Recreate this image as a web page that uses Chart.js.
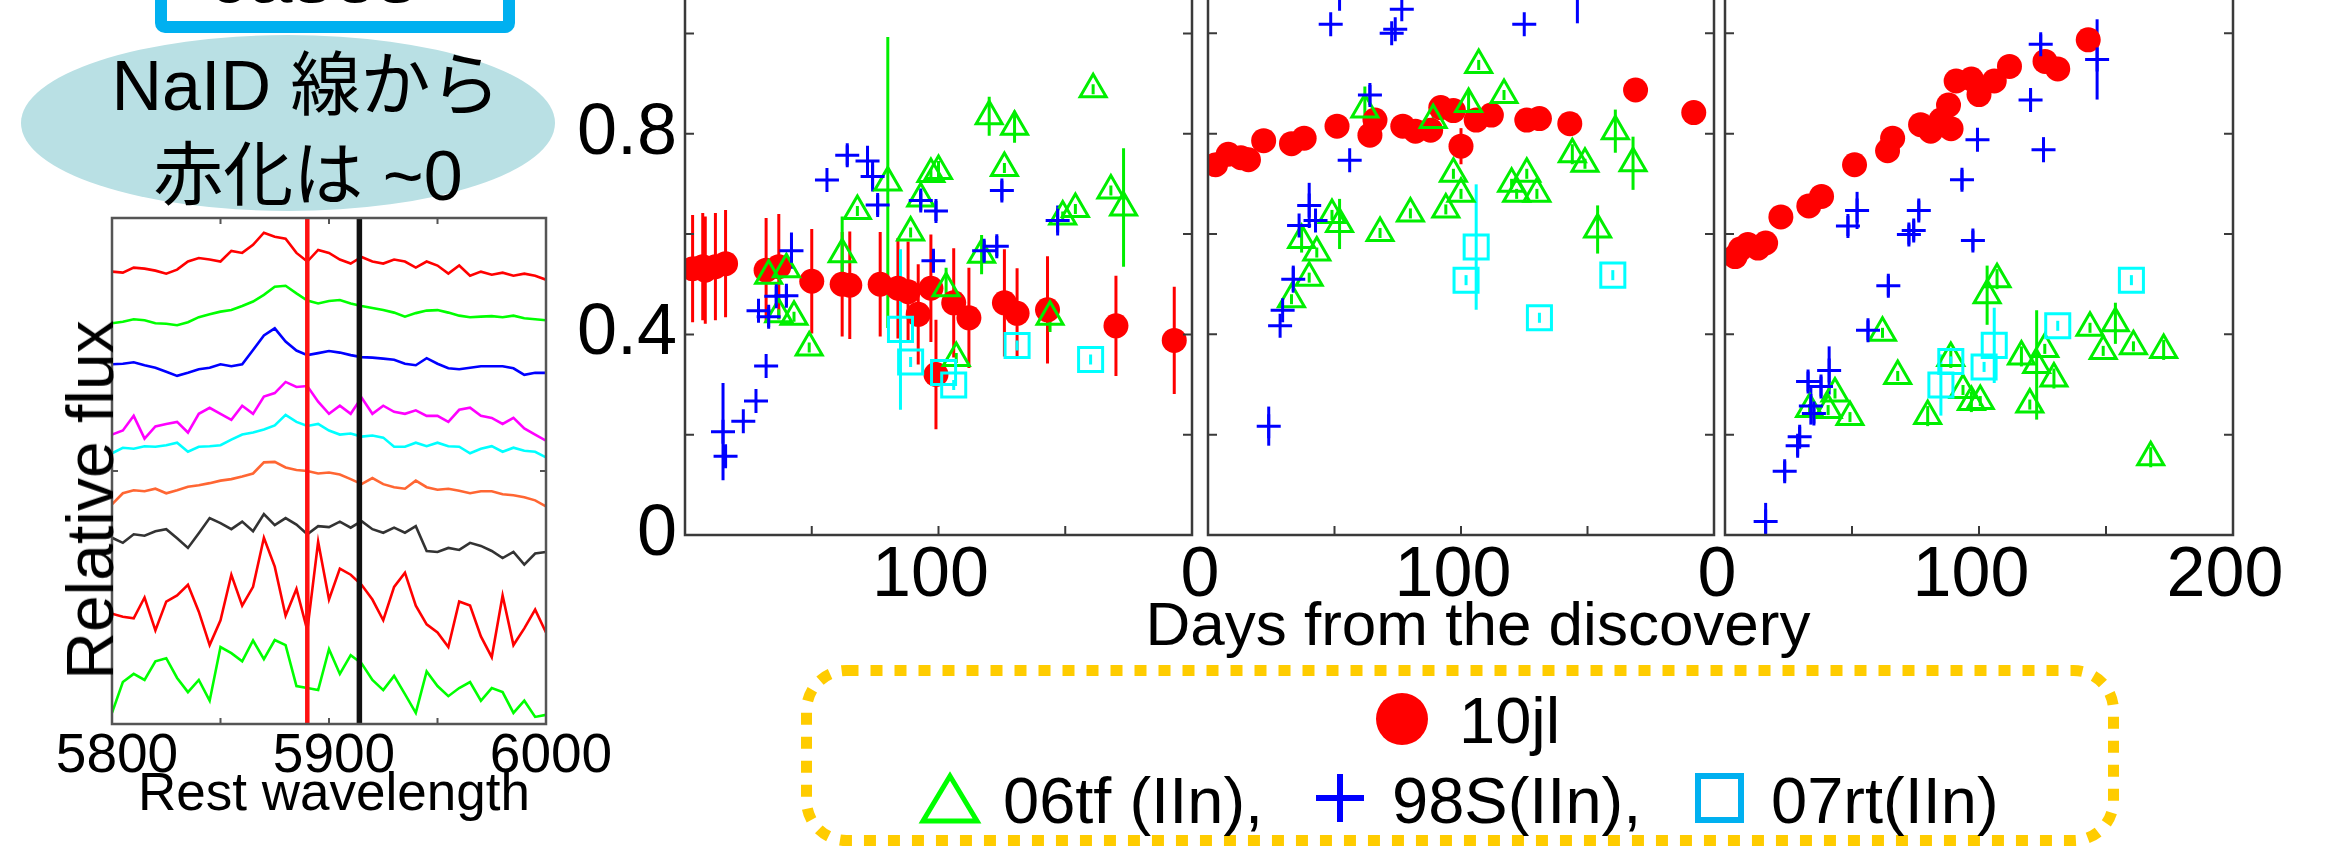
<!DOCTYPE html>
<html>
<head>
<meta charset="utf-8">
<script src="https://cdn.jsdelivr.net/npm/chart.js@4.4.1/dist/chart.umd.min.js"></script>
<style>
  body { margin: 0; width: 2333px; height: 846px; position: relative; overflow: hidden; background: #fff;
         font-family: "Liberation Sans", Arial, "Noto Sans CJK JP", sans-serif; }
  canvas { position: absolute; }
  .txt { position: absolute; white-space: nowrap; line-height: 1; color: #000; }
  #topbox { position: absolute; left: 155px; top: -200px; width: 360px; height: 233px; box-sizing: border-box;
            border: 12px solid #00b0f0; border-radius: 10px; }
  #ellipse { position: absolute; left: 21px; top: 35px; width: 534px; height: 176px; border-radius: 50%; background: #b9e0e4; }
  #legend { position: absolute; left: 0; top: 0; }
</style>
</head>
<body>
<div id="topbox"></div>
<div id="ellipse"></div>
<svg id="legend" width="2333" height="846">
  <rect x="806.5" y="670.5" width="1307" height="170" rx="40" fill="none" stroke="#ffcc00" stroke-width="11" stroke-dasharray="12 12"/>
  <circle cx="1402" cy="719" r="26" fill="#ff0000"/>
  <polygon points="950,776 923,821 977,821" fill="none" stroke="#00ff00" stroke-width="5"/>
  <line x1="1316" y1="798" x2="1364" y2="798" stroke="#0000ff" stroke-width="6"/>
  <line x1="1340" y1="774" x2="1340" y2="822" stroke="#0000ff" stroke-width="6"/>
  <rect x="1698" y="776" width="43" height="44" fill="none" stroke="#00b0f0" stroke-width="6"/>
</svg>
<script>
// ---- light-curve panels: days from discovery vs. flux ratio ----
// panel 1
const p1RedDays = [3, 7, 8, 12, 16, 32, 37, 50, 62, 65, 77, 84, 88, 92, 97, 99, 106, 112, 126, 131, 143, 170, 193];
const p1RedFlux = [0.531, 0.535, 0.528, 0.535, 0.541, 0.528, 0.535, 0.506, 0.500, 0.498, 0.500, 0.492, 0.485, 0.440, 0.492, 0.320, 0.463, 0.433, 0.463, 0.442, 0.449, 0.417, 0.388];
const p1RedErr  = [0.107, 0.107, 0.107, 0.107, 0.107, 0.104, 0.105, 0.104, 0.104, 0.107, 0.104, 0.100, 0.100, 0.100, 0.107, 0.109, 0.109, 0.100, 0.107, 0.090, 0.107, 0.100, 0.107];

const p1BlueDays = [15, 16, 23, 28, 32, 29, 33, 36, 40, 42, 56, 64, 72, 74, 76, 93, 99, 98, 118, 123, 125, 147];
const p1BlueFlux = [0.206, 0.157, 0.227, 0.267, 0.337, 0.447, 0.435, 0.476, 0.477, 0.567, 0.708, 0.757, 0.746, 0.715, 0.658, 0.667, 0.646, 0.547, 0.567, 0.576, 0.687, 0.627];
const p1BlueErr  = [0.097, 0.021, 0, 0, 0, 0.02, 0.02, 0.02, 0.02, 0.036, 0, 0.02, 0.03, 0.03, 0.02, 0.02, 0.02, 0.02, 0.02, 0.02, 0.02, 0.03];

const p1GreenDays = [33, 40, 37, 43, 49, 62, 68, 80, 89, 93, 97, 100, 103, 107, 117, 120, 130, 126, 144, 149, 154, 161, 168, 173];
const p1GreenFlux = [0.517, 0.530, 0.440, 0.435, 0.374, 0.560, 0.646, 0.703, 0.603, 0.671, 0.720, 0.726, 0.492, 0.353, 0.559, 0.835, 0.814, 0.732, 0.435, 0.635, 0.650, 0.889, 0.687, 0.653];
const p1GreenErr  = [0.01, 0.01, 0.01, 0.01, 0.01, 0.075, 0.01, 0.29, 0.01, 0.01, 0.01, 0.02, 0.041, 0.01, 0.039, 0.039, 0.032, 0.01, 0.03, 0.01, 0.01, 0.01, 0.01, 0.118];

const p1CyanDays = [85, 89, 102, 106, 131, 160];
const p1CyanFlux = [0.410, 0.345, 0.324, 0.299, 0.378, 0.350];
const p1CyanErr  = [0.16, 0.01, 0.01, 0.01, 0.01, 0.01];

// panel 2
const p2RedDays = [3, 8, 13, 16, 22, 33, 38, 51, 64, 66, 77, 82, 88, 92, 97, 100, 106, 112, 126, 131, 143, 169, 192];
const p2RedFlux = [0.738, 0.759, 0.752, 0.748, 0.786, 0.780, 0.791, 0.815, 0.797, 0.827, 0.815, 0.805, 0.807, 0.852, 0.846, 0.775, 0.827, 0.837, 0.827, 0.830, 0.820, 0.887, 0.842];
const p2RedErr  = [0, 0, 0, 0, 0, 0, 0, 0, 0, 0, 0, 0, 0, 0, 0, 0.036, 0, 0, 0, 0, 0, 0, 0];

const p2BlueDays = [24, 28.5, 29.5, 33.7, 36, 40, 42.5, 56, 64, 48.5, 72.6, 74, 76.6, 125, 52, 146];
const p2BlueFlux = [0.217, 0.417, 0.448, 0.510, 0.617, 0.657, 0.627, 0.747, 0.877, 1.018, 1.000, 1.008, 1.048, 1.018, 1.12, 1.13];
const p2BlueErr  = [0.039, 0, 0, 0.027, 0, 0.045, 0, 0, 0.02, 0, 0, 0, 0, 0, 0.075, 0.11];

const p2GreenDays = [62, 89, 103, 107, 117, 49, 52, 37, 43, 40, 33, 68, 80, 94, 97, 100, 120, 122, 126, 130, 144, 149, 161, 168, 154];
const p2GreenFlux = [0.848, 0.827, 0.859, 0.937, 0.877, 0.638, 0.620, 0.588, 0.563, 0.513, 0.470, 0.602, 0.641, 0.649, 0.720, 0.680, 0.700, 0.680, 0.720, 0.680, 0.759, 0.740, 0.805, 0.741, 0.609];
const p2GreenErr  = [0.046, 0.027, 0.027, 0.01, 0.01, 0.01, 0.05, 0.025, 0.01, 0.01, 0.01, 0.01, 0.01, 0.01, 0.01, 0.01, 0.01, 0.01, 0.01, 0.01, 0.02, 0.01, 0.043, 0.053, 0.048];

const p2CyanDays = [106, 102, 131, 160];
const p2CyanFlux = [0.574, 0.508, 0.433, 0.518];
const p2CyanErr  = [0.125, 0.01, 0.01, 0.01];

// panel 3
const p3RedDays = [4, 6, 9, 13, 16, 22, 33, 38, 51, 64, 66, 77, 81, 85, 89, 88, 91, 97, 100, 106, 112, 126, 131, 143];
const p3RedFlux = [0.555, 0.570, 0.579, 0.572, 0.582, 0.634, 0.656, 0.675, 0.738, 0.766, 0.791, 0.818, 0.805, 0.827, 0.810, 0.857, 0.905, 0.909, 0.878, 0.905, 0.934, 0.944, 0.929, 0.987];
const p3RedErr  = [0, 0, 0, 0, 0, 0, 0, 0, 0, 0, 0, 0, 0, 0, 0, 0, 0, 0, 0, 0, 0, 0, 0, 0];

const p3BlueDays = [16, 23.5, 28.6, 29.4, 32.7, 33.8, 35, 37.8, 41, 56.3, 64.3, 48.4, 52, 72.4, 74.3, 76.3, 97.6, 93.3, 99.4, 120.3, 124.3, 125.4, 146.5];
const p3BlueFlux = [0.027, 0.127, 0.178, 0.196, 0.306, 0.257, 0.242, 0.296, 0.328, 0.408, 0.497, 0.616, 0.647, 0.599, 0.607, 0.647, 0.587, 0.708, 0.788, 0.867, 0.978, 0.768, 0.948];
const p3BlueErr  = [0.037, 0.02, 0.02, 0.02, 0.02, 0.037, 0.02, 0.02, 0.048, 0.02, 0.02, 0.02, 0.037, 0.02, 0.02, 0.02, 0.02, 0.02, 0.02, 0.02, 0.02, 0.025, 0.08];

const p3GreenDays = [33.3, 40.6, 43.3, 49.2, 62, 68, 79.8, 88.9, 93.7, 97, 100.5, 103.2, 107.1, 116.7, 120, 122.7, 125.9, 129.5, 143.7, 148.9, 153.7, 160.8, 172.7, 167.6];
const p3GreenFlux = [0.251, 0.249, 0.282, 0.235, 0.403, 0.317, 0.237, 0.353, 0.289, 0.265, 0.267, 0.478, 0.510, 0.356, 0.260, 0.339, 0.371, 0.312, 0.413, 0.367, 0.422, 0.376, 0.369, 0.155];
const p3GreenErr  = [0.01, 0.01, 0.01, 0.01, 0.01, 0.01, 0.02, 0.02, 0.01, 0.02, 0.01, 0.059, 0.02, 0.02, 0.01, 0.109, 0.01, 0.02, 0.01, 0.01, 0.041, 0.01, 0.02, 0.02];

const p3CyanDays = [85, 88.9, 102, 106, 131, 160];
const p3CyanFlux = [0.299, 0.346, 0.335, 0.378, 0.417, 0.508];
const p3CyanErr  = [0.061, 0.01, 0.01, 0.075, 0.01, 0.01];

// axis ticks and labels
const dayTicks = [50, 100, 150];
const fluxTicks = [0.2, 0.4, 0.6, 0.8, 1.0];
const fluxLabels = [0, 0.4, 0.8];
const p1DayLabels = [100];
const p2DayLabels = [0, 100];
const p3DayLabels = [0, 100, 200];

// ---- spectra around NaI D ----
const wavelengths = [5800, 5805, 5810, 5815, 5820, 5825, 5830, 5835, 5840, 5845, 5850, 5855, 5860, 5865, 5870, 5875, 5880, 5885, 5890, 5895,
                     5900, 5905, 5910, 5915, 5920, 5925, 5930, 5935, 5940, 5945, 5950, 5955, 5960, 5965, 5970, 5975, 5980, 5985, 5990, 5995, 6000];
const specRed1    = [8.94, 8.92, 9.02, 9.00, 8.96, 8.90, 8.98, 9.14, 9.21, 9.18, 9.14, 9.35, 9.31, 9.47, 9.71, 9.63, 9.59, 9.31, 9.14, 9.37, 9.31, 9.18, 9.10, 9.23, 9.14, 9.10, 9.18, 9.14, 9.02, 9.14, 9.06, 8.90, 9.06, 8.86, 8.94, 8.88, 8.92, 8.86, 8.90, 8.86, 8.78];
const specGreen1  = [7.92, 7.95, 8.00, 7.98, 7.92, 7.91, 7.88, 7.94, 8.04, 8.10, 8.15, 8.18, 8.26, 8.35, 8.48, 8.64, 8.66, 8.51, 8.37, 8.31, 8.36, 8.38, 8.31, 8.26, 8.22, 8.18, 8.13, 8.05, 8.12, 8.17, 8.18, 8.13, 8.07, 8.04, 8.05, 8.06, 8.04, 8.07, 8.02, 8.00, 7.98];
const specBlue    = [7.11, 7.12, 7.15, 7.09, 7.04, 6.96, 6.88, 6.94, 7.01, 7.04, 7.11, 7.07, 7.11, 7.39, 7.68, 7.82, 7.56, 7.38, 7.29, 7.33, 7.37, 7.34, 7.29, 7.25, 7.24, 7.22, 7.20, 7.12, 7.09, 7.23, 7.12, 7.03, 7.01, 7.04, 7.07, 7.07, 7.07, 7.03, 6.90, 6.94, 6.94];
const specMagenta = [5.72, 5.80, 6.09, 5.64, 5.88, 5.93, 5.97, 5.76, 6.13, 6.25, 6.13, 6.01, 6.29, 6.13, 6.47, 6.54, 6.76, 6.66, 6.68, 6.37, 6.13, 6.29, 6.13, 6.45, 6.13, 6.29, 6.17, 6.13, 6.20, 6.09, 6.09, 5.97, 6.21, 6.25, 6.09, 6.05, 5.93, 6.05, 5.84, 5.72, 5.60];
const specCyan    = [5.35, 5.46, 5.44, 5.49, 5.48, 5.51, 5.56, 5.38, 5.48, 5.49, 5.51, 5.62, 5.72, 5.76, 5.82, 5.90, 6.11, 5.97, 5.89, 5.93, 5.80, 5.72, 5.74, 5.68, 5.70, 5.66, 5.48, 5.48, 5.56, 5.49, 5.56, 5.49, 5.48, 5.35, 5.44, 5.49, 5.38, 5.46, 5.40, 5.38, 5.27];
const specOrange  = [4.34, 4.56, 4.62, 4.60, 4.65, 4.56, 4.62, 4.69, 4.72, 4.76, 4.81, 4.84, 4.89, 4.95, 5.17, 5.18, 5.07, 5.02, 5.00, 4.95, 4.97, 4.93, 4.84, 4.74, 4.86, 4.74, 4.68, 4.65, 4.81, 4.68, 4.63, 4.65, 4.61, 4.56, 4.60, 4.60, 4.54, 4.52, 4.48, 4.42, 4.30];
const specGray    = [3.68, 3.58, 3.75, 3.72, 3.81, 3.85, 3.67, 3.48, 3.77, 4.07, 3.97, 3.85, 4.00, 3.81, 4.15, 3.93, 4.07, 3.94, 3.75, 3.91, 3.89, 4.00, 3.88, 4.01, 3.85, 3.78, 3.88, 3.78, 3.91, 3.42, 3.40, 3.48, 3.44, 3.58, 3.52, 3.42, 3.28, 3.40, 3.15, 3.37, 3.40];
const specRed2    = [2.18, 2.12, 2.09, 2.50, 1.85, 2.42, 2.54, 2.75, 2.22, 1.56, 2.05, 2.95, 2.34, 2.71, 3.68, 3.11, 2.14, 2.67, 1.85, 3.60, 2.46, 3.07, 2.95, 2.75, 2.46, 2.05, 2.71, 2.99, 2.34, 1.97, 1.81, 1.52, 2.42, 2.34, 1.73, 1.32, 2.54, 1.56, 1.89, 2.26, 1.81];
const specGreen2  = [0.22, 0.83, 0.99, 0.87, 1.24, 1.30, 0.91, 0.63, 0.87, 0.46, 1.52, 1.40, 1.24, 1.65, 1.28, 1.66, 1.56, 0.75, 0.71, 0.67, 1.48, 0.99, 1.36, 1.20, 0.87, 0.67, 0.95, 0.59, 0.22, 1.04, 0.75, 0.55, 0.71, 0.83, 0.46, 0.71, 0.63, 0.22, 0.46, 0.14, 0.18];
const naLines = [5890, 5914];
const waveTicks = [5850, 5900, 5950];
const waveLabels = [5800, 5900, 6000];
const specFluxTicks = [5];

Chart.defaults.font.family = '"Liberation Sans", Arial, sans-serif';
Chart.defaults.color = '#000';
Chart.defaults.animation = false;

// error bars: vertical lines drawn through the chart's own scales
const errorBars = {
  id: 'errorBars',
  beforeDatasetsDraw(chart) {
    const { ctx, chartArea: a, scales: { x, y } } = chart;
    ctx.save();
    ctx.beginPath();
    ctx.rect(a.left, a.top, a.right - a.left, a.bottom - a.top);
    ctx.clip();
    chart.data.datasets.forEach(ds => {
      if (!ds.errors) return;
      ctx.strokeStyle = ds.pointBorderColor;
      ctx.lineWidth = 3;
      ds.data.forEach((p, i) => {
        const e = ds.errors[i];
        if (!e) return;
        const px = x.getPixelForValue(p.x);
        ctx.beginPath();
        ctx.moveTo(px, y.getPixelForValue(p.y - e));
        ctx.lineTo(px, y.getPixelForValue(p.y + e));
        ctx.stroke();
      });
    });
    ctx.restore();
  }
};

// box frame with small inward ticks
const frame = {
  id: 'frame',
  afterDatasetsDraw(chart, args, opts) {
    const { ctx, chartArea: a, scales: { x, y } } = chart;
    ctx.save();
    ctx.strokeStyle = opts.color;
    ctx.lineWidth = 2;
    (opts.xTicks || []).forEach(v => {
      const px = x.getPixelForValue(v);
      ctx.beginPath();
      ctx.moveTo(px, a.bottom); ctx.lineTo(px, a.bottom - opts.len);
      ctx.moveTo(px, a.top); ctx.lineTo(px, a.top + opts.len);
      ctx.stroke();
    });
    (opts.yTicks || []).forEach(v => {
      const py = y.getPixelForValue(v);
      ctx.beginPath();
      ctx.moveTo(a.left, py); ctx.lineTo(a.left + opts.len, py);
      ctx.moveTo(a.right, py); ctx.lineTo(a.right - opts.len, py);
      ctx.stroke();
    });
    ctx.lineWidth = 2.5;
    ctx.strokeRect(a.left, a.top, a.right - a.left, a.bottom - a.top);
    ctx.restore();
  }
};

const hasValue = (list, v) => list.some(t => Math.abs(t - v) < 1e-6);

const STYLES = {
  sn10jl: { label: '10jl', pointStyle: 'circle', pointRadius: 12.5, pointBorderWidth: 0, pointBorderColor: '#ff0000', pointBackgroundColor: '#ff0000', order: 4 },
  sn06tf: { label: '06tf (IIn)', pointStyle: 'triangle', pointRadius: 15, pointBorderWidth: 3, pointBorderColor: '#00ee00', pointBackgroundColor: 'rgba(0,0,0,0)', order: 3 },
  sn98S:  { label: '98S(IIn)', pointStyle: 'cross', pointRadius: 12, pointBorderWidth: 3, pointBorderColor: '#0000ff', pointBackgroundColor: 'rgba(0,0,0,0)', order: 2 },
  sn07rt: { label: '07rt(IIn)', pointStyle: 'rect', pointRadius: 17, pointBorderWidth: 3, pointBorderColor: '#00ffff', pointBackgroundColor: 'rgba(0,0,0,0)', order: 1 }
};

function series(style, days, flux, errs) {
  return Object.assign({}, style, {
    data: days.map((d, i) => ({ x: d, y: flux[i] })),
    errors: errs,
    pointHoverRadius: style.pointRadius,
    showLine: false
  });
}

function addCanvas(left, top, w, h) {
  const c = document.createElement('canvas');
  c.width = w; c.height = h;
  c.style.left = left + 'px';
  c.style.top = top + 'px';
  document.body.appendChild(c);
  return c;
}

// build the chart, then resize/move its canvas so the plot area lands on the wanted box
function placeChart(makeConfig, box, guess) {
  let m = guess, chart, canvas;
  for (let pass = 0; pass < 4; pass++) {
    canvas = addCanvas(box.left - m.l, box.top - m.t,
                       Math.round(m.l + box.right - box.left + m.r), Math.round(m.t + box.bottom - box.top + m.b));
    chart = new Chart(canvas, makeConfig());
    const a = chart.chartArea;
    const n = { l: a.left, t: a.top, r: canvas.width - a.right, b: canvas.height - a.bottom };
    if (Math.abs(n.l - m.l) < 0.5 && Math.abs(n.t - m.t) < 0.5 && Math.abs(n.r - m.r) < 0.5 && Math.abs(n.b - m.b) < 0.5) break;
    chart.destroy();
    canvas.remove();
    m = n;
  }
  return chart;
}

const PLOT_TOP = -67, PLOT_BOTTOM = 535;

function lightCurvePanel(plotLeft, plotRight, yAxisW, rightPad, sets, dayLabels, showFlux) {
  const makeConfig = () => ({
    type: 'scatter',
    data: { datasets: sets() },
    plugins: [errorBars, frame],
    options: {
      responsive: false,
      maintainAspectRatio: false,
      events: [],
      layout: { autoPadding: false, padding: { left: 0, right: rightPad, top: 0, bottom: 0 } },
      plugins: {
        legend: { display: false },
        tooltip: { enabled: false },
        frame: { xTicks: dayTicks, yTicks: fluxTicks, color: '#3a3a3a', len: 9 }
      },
      scales: {
        x: {
          type: 'linear', min: 0, max: 200,
          afterFit: s => { s.height = 110; },
          grid: { display: false, drawTicks: false }, border: { display: false },
          ticks: { stepSize: 50, autoSkip: false, maxRotation: 0, padding: 0, labelOffset: -8, font: { size: 70 },
                   callback: v => hasValue(dayLabels, v) ? String(v) : null }
        },
        y: {
          type: 'linear', min: 0, max: 1.2,
          afterFit: s => { s.width = yAxisW; },
          grid: { display: false, drawTicks: false }, border: { display: false },
          ticks: { display: showFlux, stepSize: 0.2, autoSkip: false, padding: 8, font: { size: 72 },
                   callback: v => hasValue(fluxLabels, v) ? String(Math.round(v * 10) / 10) : null }
        }
      }
    }
  });
  placeChart(makeConfig, { left: plotLeft, right: plotRight, top: PLOT_TOP, bottom: PLOT_BOTTOM },
             { l: yAxisW, t: 0, r: rightPad, b: 110 });
}

lightCurvePanel(685, 1192, 160, 10, () => [
  series(STYLES.sn10jl, p1RedDays, p1RedFlux, p1RedErr),
  series(STYLES.sn06tf, p1GreenDays, p1GreenFlux, p1GreenErr),
  series(STYLES.sn98S, p1BlueDays, p1BlueFlux, p1BlueErr),
  series(STYLES.sn07rt, p1CyanDays, p1CyanFlux, p1CyanErr)
], p1DayLabels, true);

lightCurvePanel(1208, 1714, 40, 10, () => [
  series(STYLES.sn10jl, p2RedDays, p2RedFlux, p2RedErr),
  series(STYLES.sn06tf, p2GreenDays, p2GreenFlux, p2GreenErr),
  series(STYLES.sn98S, p2BlueDays, p2BlueFlux, p2BlueErr),
  series(STYLES.sn07rt, p2CyanDays, p2CyanFlux, p2CyanErr)
], p2DayLabels, false);

lightCurvePanel(1725, 2233, 40, 70, () => [
  series(STYLES.sn10jl, p3RedDays, p3RedFlux, p3RedErr),
  series(STYLES.sn06tf, p3GreenDays, p3GreenFlux, p3GreenErr),
  series(STYLES.sn98S, p3BlueDays, p3BlueFlux, p3BlueErr),
  series(STYLES.sn07rt, p3CyanDays, p3CyanFlux, p3CyanErr)
], p3DayLabels, false);

// spectra panel
const specColors = ['#ff0000', '#00ff00', '#0000ff', '#ff00ff', '#00ffff', '#ff6633', '#333333', '#ff0000', '#00ff00'];
const spectra = [specRed1, specGreen1, specBlue, specMagenta, specCyan, specOrange, specGray, specRed2, specGreen2];

function spectraSets() {
  const sets = spectra.map((flux, k) => ({
    data: wavelengths.map((w, i) => ({ x: w, y: flux[i] })),
    showLine: true, borderColor: specColors[k], borderWidth: 2.6, pointRadius: 0, pointHoverRadius: 0, order: 2
  }));
  naLines.forEach((w, k) => sets.push({
    data: [{ x: w, y: 0 }, { x: w, y: 10 }],
    showLine: true, borderColor: k === 0 ? '#ff1010' : '#111111', borderWidth: k === 0 ? 4.5 : 5.5,
    pointRadius: 0, pointHoverRadius: 0, order: 1
  }));
  return sets;
}

placeChart(() => ({
  type: 'scatter',
  data: { datasets: spectraSets() },
  plugins: [frame],
  options: {
    responsive: false,
    maintainAspectRatio: false,
    events: [],
    layout: { autoPadding: false, padding: { left: 80, right: 80, top: 10, bottom: 0 } },
    plugins: {
      legend: { display: false },
      tooltip: { enabled: false },
      frame: { xTicks: waveTicks, yTicks: specFluxTicks, color: '#555555', len: 6 }
    },
    scales: {
      x: {
        type: 'linear', min: 5800, max: 6000,
        afterFit: s => { s.height = 66; },
        grid: { display: false, drawTicks: false }, border: { display: false },
        ticks: { stepSize: 50, autoSkip: false, maxRotation: 0, padding: 0, labelOffset: 5, font: { size: 55 },
                 callback: v => hasValue(waveLabels, v) ? String(v) : null }
      },
      y: { type: 'linear', min: 0, max: 10, display: false }
    }
  }
}), { left: 112, right: 546, top: 218, bottom: 724 }, { l: 80, t: 10, r: 80, b: 66 });

// texts
function text(str, x, baseline, size, center) {
  const d = document.createElement('div');
  d.className = 'txt';
  d.textContent = str;
  d.style.fontSize = size + 'px';
  d.style.top = (baseline - 0.8465 * size) + 'px';
  d.style.left = x + 'px';
  if (center) d.style.transform = 'translateX(-50%)';
  document.body.appendChild(d);
  return d;
}

text('cases', 208, 3, 80);
text('NaID 線から', 306, 110, 70, true);
text('赤化は ~0', 308, 200, 70, true);
text('Rest wavelength', 334, 810, 53, true);
text('Days from the discovery', 1478, 645, 62, true);
text('10jl', 1459, 743, 65);
text('06tf (IIn),', 1003, 823, 65);
text('98S(IIn),', 1392, 823, 65);
text('07rt(IIn)', 1771, 823, 65);

const yTitle = document.createElement('div');
yTitle.className = 'txt';
yTitle.textContent = 'Relative flux';
yTitle.style.fontSize = '66px';
yTitle.style.left = '90px';
yTitle.style.top = '500px';
yTitle.style.transform = 'translate(-50%, -50%) rotate(-90deg)';
document.body.appendChild(yTitle);
</script>
</body>
</html>
